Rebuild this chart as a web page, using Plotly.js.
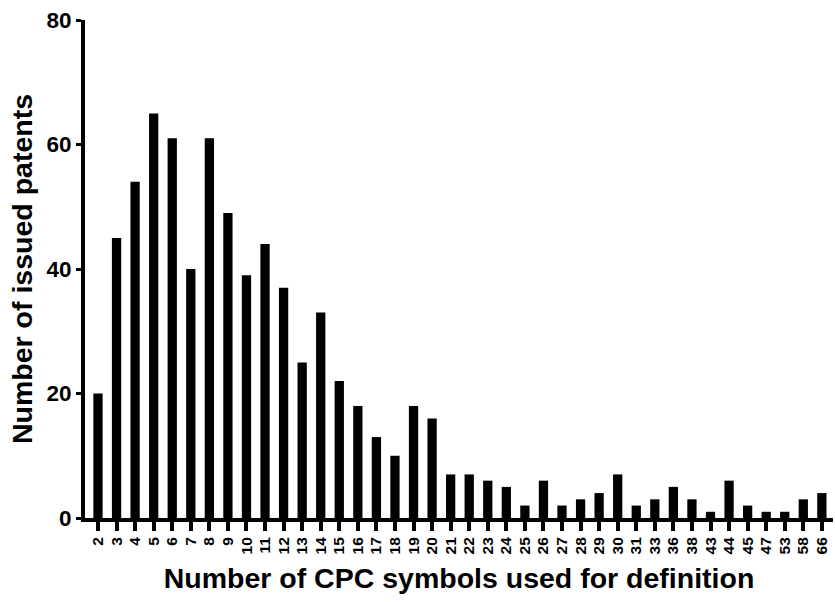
<!DOCTYPE html>
<html>
<head>
<meta charset="utf-8">
<script src="https://cdn.plot.ly/plotly-3.0.1.min.js"></script>
<style>html,body{margin:0;padding:0;background:#fff;}#chart{width:835px;height:602px;}</style>
</head>
<body>
<div id="chart"></div>
<script>
const categories = ["2","3","4","5","6","7","8","9","10","11","12","13","14","15","16","17","18","19","20","21","22","23","24","25","26","27","28","29","30","31","33","36","38","43","44","45","47","53","58","66"];
const patents = [20,45,54,65,61,40,61,49,39,44,37,25,33,22,18,13,10,18,16,7,7,6,5,2,6,2,3,4,7,2,3,5,3,1,6,2,1,1,3,4];
const yTicks = [0,20,40,60,80];

const trace = {
  type: 'bar',
  x: categories,
  y: patents,
  marker: {color: '#000000', line: {width: 0}},
  hoverinfo: 'x+y'
};

const layout = {
  width: 835, height: 602,
  margin: {l: 85, r: 2, t: 20, b: 84},
  paper_bgcolor: '#ffffff', plot_bgcolor: '#ffffff',
  bargap: 0.5,
  showlegend: false,
  font: {family: 'Liberation Sans, Arial, sans-serif', color: '#000'},
  xaxis: {
    type: 'category',
    range: [-0.7, 39.6],
    automargin: false,
    tickmode: 'array',
    tickvals: categories,
    ticktext: categories,
    showgrid: false, zeroline: false,
    showline: true, linecolor: '#000', linewidth: 4,
    ticks: 'outside', ticklen: 9, tickwidth: 4, tickcolor: '#000',
    tickangle: -90,
    tickfont: {size: 15.5, weight: 'bold', color: '#000'},
    title: {text: 'Number of CPC symbols used for definition', font: {size: 28.5, weight: 'bold', color: '#000'}, standoff: 16}
  },
  yaxis: {
    range: [0, 80],
    tickvals: yTicks,
    automargin: false,
    showgrid: false, zeroline: false,
    showline: true, linecolor: '#000', linewidth: 4,
    ticks: 'outside', ticklen: 5, tickwidth: 3, tickcolor: '#000',
    tickfont: {size: 22.5, weight: 'bold', color: '#000'},
    title: {text: 'Number of issued patents', font: {size: 28.5, weight: 'bold', color: '#000'}, standoff: 6}
  }
};

Plotly.newPlot('chart', [trace], layout, {displayModeBar: false, staticPlot: true});
</script>
</body>
</html>
